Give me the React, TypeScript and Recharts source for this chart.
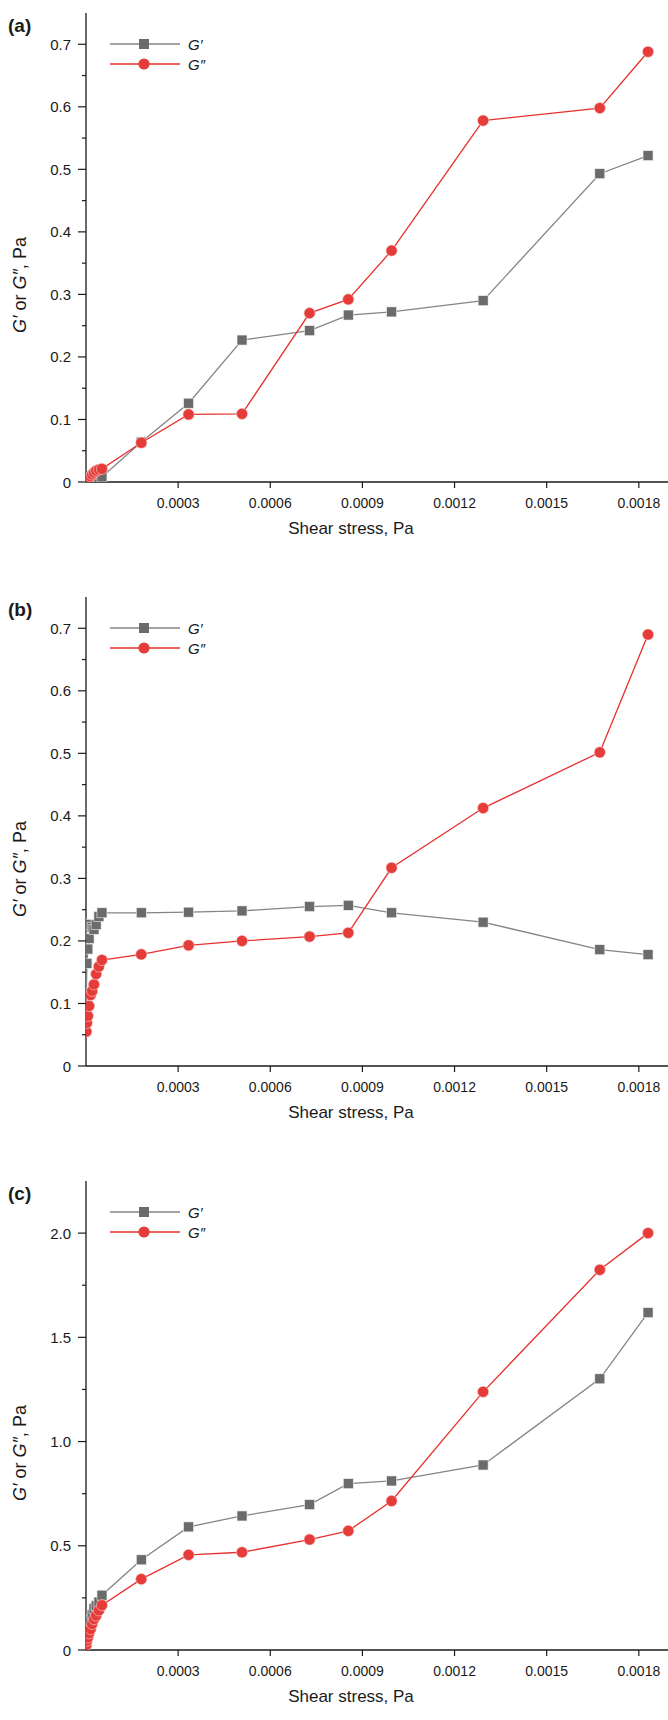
import React from 'react';
import { ScatterChart, Scatter, XAxis, YAxis, Legend } from 'recharts';

const FONT = 'Arial, "Liberation Sans", Helvetica, sans-serif';
const INK = '#1a1a1a';

// shear stress, Pa (same steps for all three samples)
const stress = [
  0.000001, 0.000003, 0.000006, 0.00001, 0.000015, 0.00002, 0.000026, 0.000033, 0.000042, 0.000052,
  0.00018, 0.000334, 0.000508, 0.000728, 0.000854, 0.000995, 0.001293, 0.001673, 0.00183,
];

const gPrimeA = [
  0, 0.0005, 0.001, 0.0015, 0.002, 0.003, 0.004, 0.005, 0.006, 0.008,
  0.0638, 0.126, 0.227, 0.242, 0.267, 0.272, 0.29, 0.493, 0.522,
];
const gDoublePrimeA = [
  0, 0.002, 0.004, 0.006, 0.009, 0.012, 0.015, 0.018, 0.02, 0.021,
  0.0628, 0.108, 0.109, 0.27, 0.292, 0.37, 0.578, 0.598, 0.688,
];

const gPrimeB = [
  0.116, 0.164, 0.187, 0.204, 0.2265, 0.222, 0.2185, 0.226, 0.239, 0.245,
  0.245, 0.246, 0.248, 0.255, 0.257, 0.245, 0.23, 0.186, 0.178,
];
const gDoublePrimeB = [
  0.055, 0.069, 0.08, 0.096, 0.1135, 0.12, 0.1305, 0.147, 0.159, 0.1695,
  0.1785, 0.193, 0.2, 0.207, 0.213, 0.317, 0.4125, 0.5016, 0.69,
];

const gPrimeC = [
  0.03, 0.06, 0.09, 0.108, 0.14, 0.17, 0.2, 0.212, 0.23, 0.263,
  0.4326, 0.5906, 0.643, 0.6975, 0.798, 0.811, 0.8875, 1.301, 1.6185,
];
const gDoublePrimeC = [
  0.024, 0.045, 0.06, 0.08, 0.1, 0.125, 0.148, 0.165, 0.19, 0.215,
  0.34, 0.4565, 0.469, 0.53, 0.5714, 0.715, 1.2386, 1.824, 2.0,
];

const xTicks = [0.0003, 0.0006, 0.0009, 0.0012, 0.0015, 0.0018];
const yMajorAB = [0, 0.1, 0.2, 0.3, 0.4, 0.5, 0.6, 0.7];
const yMinorAB = [0.05, 0.15, 0.25, 0.35, 0.45, 0.55, 0.65];
const yMajorC = [0, 0.5, 1.0, 1.5, 2.0];
const yMinorC = [0.25, 0.75, 1.25, 1.75];
const seriesNames = ['G′', 'G″'];

const X_MAX = 0.001895;
const GREY_FILL = '#6b6b6b';
const GREY_LINE = '#858585';
const RED_FILL = '#e53c3a';
const RED_LINE = '#e8302c';

const PLOT_LEFT = 86;
const PLOT_TOP = 13;
const PLOT_BOTTOM = 482;

const toPoints = (ys: number[]) => stress.map((x, i) => ({ x, y: ys[i] }));

function SquareDot(props: any) {
  const { cx, cy } = props;
  if (cx == null || cy == null) return null;
  return <rect x={cx - 5} y={cy - 5} width={10} height={10} fill={GREY_FILL} stroke="#f2f2f2" strokeWidth={0.6} />;
}

function CircleDot(props: any) {
  const { cx, cy } = props;
  if (cx == null || cy == null) return null;
  return <circle cx={cx} cy={cy} r={5.6} fill={RED_FILL} stroke="#f6d0cf" strokeWidth={0.6} />;
}

function YTick(props: any) {
  const { x, y, payload, majors } = props;
  const v = payload.value;
  const isMajor = majors.some((m: number) => Math.abs(m - v) < 1e-9);
  return (
    <g>
      <line x1={x - (isMajor ? 8 : 4)} x2={x} y1={y} y2={y} stroke={INK} strokeWidth={1.2} />
      {isMajor && (
        <text x={x - 15} y={y} textAnchor="end" dominantBaseline="central" fontSize={15} fontFamily={FONT} fill={INK}>
          {v === 0 ? '0' : v.toFixed(1)}
        </text>
      )}
    </g>
  );
}

function XTick(props: any) {
  const { x, y, payload } = props;
  return (
    <g>
      <line x1={x} x2={x} y1={y} y2={y + 6} stroke={INK} strokeWidth={1.2} />
      <text x={x} y={y + 16} dy="0.71em" textAnchor="middle" fontSize={14} fontFamily={FONT} fill={INK}>
        {payload.value.toFixed(4)}
      </text>
    </g>
  );
}

function YTitle({ letter }: { letter: string }) {
  const cx = 20;
  const cy = PLOT_TOP + 272;
  return (
    <g>
      <text x={8} y={32} fontSize={19} fontWeight="bold" fontFamily={FONT} fill={INK}>
        ({letter})
      </text>
      <text
        x={cx}
        y={cy}
        transform={`rotate(-90, ${cx}, ${cy})`}
        textAnchor="middle"
        dominantBaseline="central"
        fontSize={18}
        fontFamily={FONT}
        fill={INK}
      >
        <tspan fontStyle="italic">{seriesNames[0]}</tspan>
        <tspan> or </tspan>
        <tspan fontStyle="italic">{seriesNames[1]}</tspan>
        <tspan>, Pa</tspan>
      </text>
    </g>
  );
}

function XTitle() {
  return (
    <text x={351} y={PLOT_BOTTOM + 46} textAnchor="middle" dominantBaseline="central" fontSize={17} fontFamily={FONT} fill={INK}>
      Shear stress, Pa
    </text>
  );
}

function LegendBox() {
  return (
    <svg width={110} height={44} style={{ display: 'block', overflow: 'visible' }}>
      <line x1={2} x2={72} y1={10} y2={10} stroke={GREY_LINE} strokeWidth={1.3} />
      <rect x={31} y={5} width={10} height={10} fill={GREY_FILL} />
      <text x={80} y={10} dominantBaseline="central" fontSize={15} fontStyle="italic" fontFamily={FONT} fill={INK}>
        {seriesNames[0]}
      </text>
      <line x1={2} x2={72} y1={30} y2={30} stroke={RED_LINE} strokeWidth={1.3} />
      <circle cx={36} cy={30} r={5.6} fill={RED_FILL} />
      <text x={80} y={30} dominantBaseline="central" fontSize={15} fontStyle="italic" fontFamily={FONT} fill={INK}>
        {seriesNames[1]}
      </text>
    </svg>
  );
}

interface PanelProps {
  letter: string;
  top: number;
  height: number;
  gPrime: number[];
  gDoublePrime: number[];
  yMax: number;
  yMajor: number[];
  yMinor: number[];
}

function Panel({ letter, top, height, gPrime, gDoublePrime, yMax, yMajor, yMinor }: PanelProps) {
  const yTicks = [...yMajor, ...yMinor].sort((a, b) => a - b);
  return (
    <div style={{ position: 'absolute', left: 0, top, width: 668, height }}>
      <ScatterChart width={668} height={height} margin={{ top: PLOT_TOP, right: 0, bottom: 0, left: 0 }}>
        <XAxis
          dataKey="x"
          type="number"
          domain={[0, X_MAX]}
          allowDataOverflow
          ticks={xTicks}
          interval={0}
          tickSize={0}
          tickMargin={0}
          tickLine={false}
          tick={(p: any) => <XTick {...p} />}
          height={height - PLOT_BOTTOM}
          axisLine={{ stroke: INK, strokeWidth: 1.3 }}
          label={{ content: () => <XTitle /> }}
        />
        <XAxis
          xAxisId="top"
          orientation="top"
          type="number"
          domain={[0, X_MAX]}
          height={0}
          tick={false}
          tickLine={false}
          axisLine={{ stroke: INK, strokeWidth: 1.3 }}
        />
        <YAxis
          dataKey="y"
          type="number"
          domain={[0, yMax]}
          allowDataOverflow
          ticks={yTicks}
          interval={0}
          width={PLOT_LEFT}
          tickSize={0}
          tickMargin={0}
          tickLine={false}
          tick={(p: any) => <YTick {...p} majors={yMajor} />}
          axisLine={{ stroke: INK, strokeWidth: 1.3 }}
          label={{ content: () => <YTitle letter={letter} /> }}
        />
        <Legend
          layout="vertical"
          verticalAlign="middle"
          align="center"
          content={() => <LegendBox />}
          wrapperStyle={{ left: 108, top: PLOT_TOP + 21, width: 110, height: 44 }}
        />
        <Scatter
          name={seriesNames[0]}
          data={toPoints(gPrime)}
          line={{ stroke: GREY_LINE, strokeWidth: 1.3 }}
          lineType="joint"
          shape={(p: any) => <SquareDot {...p} />}
          isAnimationActive={false}
        />
        <Scatter
          name={seriesNames[1]}
          data={toPoints(gDoublePrime)}
          line={{ stroke: RED_LINE, strokeWidth: 1.3 }}
          lineType="joint"
          shape={(p: any) => <CircleDot {...p} />}
          isAnimationActive={false}
        />
      </ScatterChart>
    </div>
  );
}

export default function App() {
  return (
    <div style={{ position: 'absolute', left: 0, top: 0, width: 668, height: 1720, overflow: 'hidden', background: '#fff' }}>
      <Panel letter="a" top={0} height={584} gPrime={gPrimeA} gDoublePrime={gDoublePrimeA} yMax={0.75} yMajor={yMajorAB} yMinor={yMinorAB} />
      <Panel letter="b" top={584} height={584} gPrime={gPrimeB} gDoublePrime={gDoublePrimeB} yMax={0.75} yMajor={yMajorAB} yMinor={yMinorAB} />
      <Panel letter="c" top={1168} height={552} gPrime={gPrimeC} gDoublePrime={gDoublePrimeC} yMax={2.25} yMajor={yMajorC} yMinor={yMinorC} />
    </div>
  );
}
